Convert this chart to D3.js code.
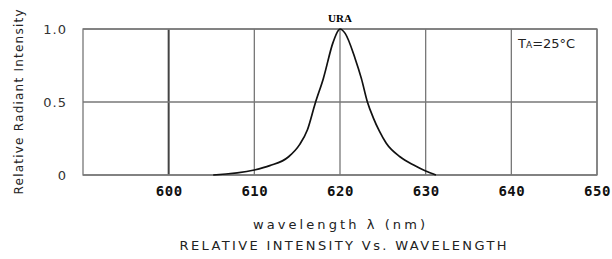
<!DOCTYPE html>
<html>
<head>
<meta charset="utf-8">
<script src="https://cdn.jsdelivr.net/npm/d3@7"></script>
<style>
  body { margin: 0; background: #fff; }
  svg { display: block; }
</style>
</head>
<body>
<div id="chart"></div>
<script>
// data
var wavelength = [605.2, 610, 611.8, 614.0, 615.3, 616.2, 617.1, 618.05, 619.2, 619.8, 620,
                  620.6, 621.75, 622.5, 623.2, 623.9, 624.6, 625.4, 627.0, 628.6, 630.0, 631.2];
var intensity = [0, 0.034, 0.064, 0.125, 0.21, 0.31, 0.49, 0.66, 0.91, 0.99, 1.0,
                 0.97, 0.80, 0.66, 0.50, 0.39, 0.30, 0.217, 0.125, 0.068, 0.027, 0];
var xTicks = [600, 610, 620, 630, 640, 650];
var yTicks = [0, 0.5, 1.0];
var yTickLabels = ["0", "0.5", "1.0"];

var W = 612, H = 259;
var margin = {top: 29, right: 15, bottom: 84, left: 83},
  width = W - margin.left - margin.right,
  height = H - margin.top - margin.bottom;

var x = d3.scaleLinear().domain([590, 650]).range([0, width]);
var y = d3.scaleLinear().domain([0, 1]).range([height, 0]);

var svg = d3.select("#chart").append("svg")
  .attr("width", W)
  .attr("height", H)
  .append("g")
  .attr("transform", "translate(" + margin.left + "," + margin.top + ")");

// vertical grid lines
svg.selectAll(".vgrid")
  .data(xTicks)
  .enter().append("line")
  .attr("x1", function(d) { return x(d); })
  .attr("x2", function(d) { return x(d); })
  .attr("y1", 0)
  .attr("y2", height)
  .attr("stroke", function(d) { return d === 600 ? "#444" : "#777"; })
  .attr("stroke-width", function(d) { return d === 600 ? 2 : 1.3; });

// horizontal grid lines
svg.selectAll(".hgrid")
  .data(yTicks)
  .enter().append("line")
  .attr("x1", 0)
  .attr("x2", width)
  .attr("y1", function(d) { return y(d); })
  .attr("y2", function(d) { return y(d); })
  .attr("stroke", "#777")
  .attr("stroke-width", 1.3);

// frame
svg.append("rect")
  .attr("width", width)
  .attr("height", height)
  .attr("fill", "none")
  .attr("stroke", "#777")
  .attr("stroke-width", 1.3);

// x tick labels
var xAxis = d3.axisBottom(x).tickValues(xTicks).tickSize(0).tickPadding(11);
var gx = svg.append("g")
  .attr("transform", "translate(0," + height + ")")
  .call(xAxis);
gx.select(".domain").remove();
gx.selectAll("text")
  .style("font-family", "'DejaVu Sans Mono', monospace")
  .style("font-weight", "bold")
  .style("font-size", "14px")
  .style("letter-spacing", "0.5px")
  .attr("fill", "#111");

// y tick labels
var yAxis = d3.axisLeft(y).tickValues(yTicks).tickSize(0).tickPadding(16)
  .tickFormat(function(d, i) { return yTickLabels[i]; });
var gy = svg.append("g").call(yAxis);
gy.select(".domain").remove();
gy.selectAll("text")
  .style("font-family", "'DejaVu Sans', sans-serif")
  .style("font-size", "13px")
  .style("letter-spacing", "1px")
  .attr("fill", "#333");

// curve
var line = d3.line()
  .x(function(d, i) { return x(wavelength[i]); })
  .y(function(d) { return y(d); })
  .curve(d3.curveMonotoneX);

svg.append("path")
  .datum(intensity)
  .attr("d", line)
  .attr("fill", "none")
  .attr("stroke", "#111")
  .attr("stroke-width", 1.7);

// URA label
svg.append("text")
  .attr("x", x(620))
  .attr("y", -7)
  .attr("text-anchor", "middle")
  .style("font-family", "'Liberation Serif', serif")
  .style("font-weight", "bold")
  .style("font-size", "11px")
  .text("URA");

// TA=25°C
var ta = svg.append("text")
  .attr("x", 435)
  .attr("y", 19)
  .style("font-family", "'DejaVu Sans', sans-serif")
  .style("font-size", "13px")
  .attr("fill", "#222");
ta.append("tspan").text("T");
ta.append("tspan").style("font-size", "9px").text("A");
ta.append("tspan").text("=25°C");

// x axis title
svg.append("text")
  .attr("x", 256)
  .attr("y", height + 54)
  .attr("text-anchor", "middle")
  .attr("textLength", 172)
  .attr("lengthAdjust", "spacing")
  .style("font-family", "'DejaVu Sans', sans-serif")
  .style("font-size", "13px")
  .attr("fill", "#222")
  .text("wavelength λ (nm)");

svg.append("text")
  .attr("x", 260)
  .attr("y", height + 75)
  .attr("text-anchor", "middle")
  .attr("textLength", 327)
  .attr("lengthAdjust", "spacing")
  .style("font-family", "'DejaVu Sans', sans-serif")
  .style("font-size", "13px")
  .attr("fill", "#222")
  .text("RELATIVE INTENSITY Vs. WAVELENGTH");

// y axis title
svg.append("text")
  .attr("transform", "translate(-60," + (102 - margin.top) + ") rotate(-90)")
  .attr("text-anchor", "middle")
  .attr("textLength", 185)
  .attr("lengthAdjust", "spacing")
  .style("font-family", "'DejaVu Sans', sans-serif")
  .style("font-size", "12px")
  .attr("fill", "#222")
  .text("Relative Radiant Intensity");
</script>
</body>
</html>
